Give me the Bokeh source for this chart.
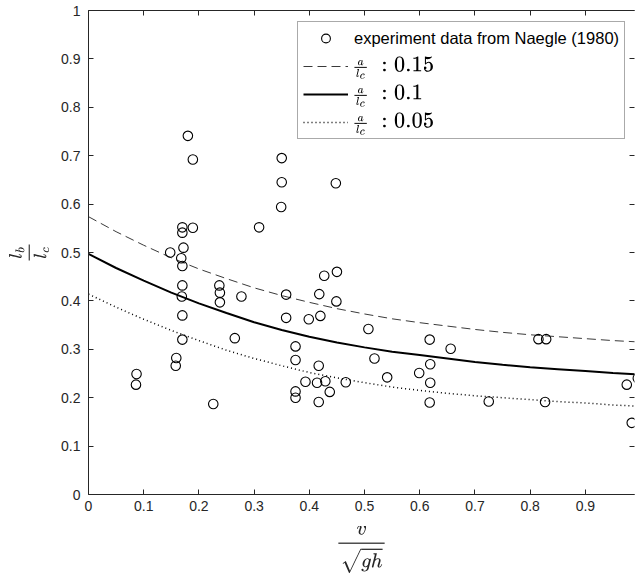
from bokeh.plotting import figure
from bokeh.models import (Range1d, LinearAxis, FixedTicker, Legend, LegendItem,
                          Label, TeX, CustomLabelingPolicy)
from bokeh.embed import file_html
from bokeh.resources import INLINE

# Measured Froude number v/sqrt(gh) and relative length l_b/l_c (Naegle, 1980)
froude = [0.087, 0.086, 0.148, 0.159, 0.158, 0.170, 0.170, 0.172, 0.168, 0.170,
          0.170, 0.169, 0.170, 0.170, 0.180, 0.189, 0.189, 0.226, 0.237, 0.238,
          0.238, 0.265, 0.277, 0.309, 0.350, 0.350, 0.349, 0.358, 0.358, 0.375,
          0.375, 0.375, 0.375, 0.393, 0.399, 0.414, 0.417, 0.417, 0.418, 0.420,
          0.427, 0.429, 0.437, 0.448, 0.449, 0.450, 0.466, 0.507, 0.518, 0.541,
          0.599, 0.618, 0.619, 0.619, 0.618, 0.656, 0.725, 0.815, 0.829, 0.827,
          0.975, 0.995, 0.984]
ratio = [0.249, 0.227, 0.500, 0.282, 0.266, 0.552, 0.541, 0.510, 0.488, 0.472,
         0.432, 0.409, 0.370, 0.320, 0.741, 0.692, 0.551, 0.187, 0.432, 0.417,
         0.397, 0.323, 0.409, 0.552, 0.695, 0.645, 0.594, 0.413, 0.365, 0.306,
         0.278, 0.213, 0.200, 0.233, 0.362, 0.231, 0.266, 0.191, 0.414, 0.369,
         0.452, 0.234, 0.212, 0.643, 0.399, 0.460, 0.232, 0.342, 0.281, 0.242,
         0.251, 0.320, 0.269, 0.231, 0.190, 0.301, 0.192, 0.321, 0.321, 0.191,
         0.227, 0.240, 0.148]

# Model curves for three values of a/l_c
curve_x = [0.00, 0.05, 0.10, 0.15, 0.20, 0.25, 0.30, 0.35, 0.40, 0.45, 0.50,
           0.55, 0.60, 0.65, 0.70, 0.75, 0.80, 0.85, 0.90, 0.95, 1.00]
curve_015 = [0.574, 0.543, 0.515, 0.489, 0.466, 0.446, 0.427, 0.411, 0.397, 0.384,
             0.373, 0.363, 0.355, 0.348, 0.341, 0.335, 0.330, 0.326, 0.322, 0.318,
             0.315]
curve_010 = [0.497, 0.468, 0.442, 0.417, 0.395, 0.375, 0.356, 0.340, 0.326, 0.314,
             0.304, 0.295, 0.288, 0.281, 0.274, 0.268, 0.263, 0.259, 0.255, 0.251,
             0.248]
curve_005 = [0.414, 0.387, 0.362, 0.339, 0.318, 0.298, 0.281, 0.266, 0.252, 0.241,
             0.231, 0.222, 0.215, 0.209, 0.204, 0.200, 0.196, 0.192, 0.189, 0.185,
             0.182]
curve_labels = [r"{\scriptstyle\frac{a}{l_c}}\; : 0.15",
                r"{\scriptstyle\frac{a}{l_c}}\; : 0.1",
                r"{\scriptstyle\frac{a}{l_c}}\; : 0.05"]

tick_values = [0.0, 0.1, 0.2, 0.3, 0.4, 0.5, 0.6, 0.7, 0.8, 0.9, 1.0]
tick_overrides = {0: "0", 1: "1"}

axis_color = "#262626"
tick_font = "Liberation Sans"

p = figure(width=638, height=579, output_backend="svg", toolbar_location=None,
           x_range=Range1d(0, 0.989), y_range=Range1d(0, 1),
           min_border_left=88, min_border_right=0, min_border_top=10,
           min_border_bottom=85, background_fill_color="white",
           border_fill_color="white", outline_line_color=None)
p.xgrid.visible = False
p.ygrid.visible = False


def style_axis(ax, show_labels=True):
    ax.ticker = FixedTicker(ticks=tick_values)
    ax.major_tick_in = 5
    ax.major_tick_out = 0
    ax.minor_tick_in = 0
    ax.minor_tick_out = 0
    ax.axis_line_color = axis_color
    ax.axis_line_width = 1
    ax.major_tick_line_color = axis_color
    ax.major_label_overrides = tick_overrides
    if show_labels:
        ax.major_label_text_font = tick_font
        ax.major_label_text_font_size = "14px"
        ax.major_label_text_color = axis_color
    else:
        # box edge: ticks only, no labels drawn
        ax.major_label_text_font_size = "1px"
        ax.major_label_standoff = 0
        ax.major_label_policy = CustomLabelingPolicy(code="return []")


style_axis(p.xaxis[0])
style_axis(p.yaxis[0])
p.xaxis.major_label_standoff = 6
p.yaxis.major_label_standoff = 8

p.xaxis.axis_label = r"$$\frac{v}{\sqrt{gh}}$$"
p.xaxis.axis_label_text_font_size = "17px"
p.xaxis.axis_label_text_color = axis_color
p.xaxis.axis_label_standoff = 12
p.yaxis.axis_label = r"$$\frac{l_b}{l_c}$$"
p.yaxis.axis_label_text_font_size = "15px"
p.yaxis.axis_label_text_color = axis_color
p.yaxis.axis_label_standoff = 9

top_axis = LinearAxis()
style_axis(top_axis, show_labels=False)
p.add_layout(top_axis, "above")

right_axis = LinearAxis()
style_axis(right_axis, show_labels=False)
right_axis.axis_line_color = None
p.add_layout(right_axis, "right")

r015 = p.line(curve_x, curve_015, line_color="#3a3a3a", line_width=1,
              line_dash="9 5")
r010 = p.line(curve_x, curve_010, line_color="black", line_width=2)
r005 = p.line(curve_x, curve_005, line_color="black", line_width=1.5,
              line_dash="1 3")
pts = p.scatter(froude, ratio, marker="circle", size=9.5, fill_color=None,
                line_color="black", line_width=1.1)

legend = Legend(items=[
    LegendItem(label="experiment data from Naegle (1980)", renderers=[pts]),
    LegendItem(label=" ", renderers=[r015]),
    LegendItem(label=" ", renderers=[r010]),
    LegendItem(label=" ", renderers=[r005]),
], location=(209, 355), orientation="vertical")
legend.label_text_font = tick_font
legend.label_text_font_size = "16.5px"
legend.label_text_color = "black"
legend.glyph_width = 45
legend.glyph_height = 22
legend.label_height = 22
legend.label_standoff = 6
legend.spacing = 6
legend.padding = 5
legend.margin = 0
legend.border_line_color = "#555555"
legend.border_line_width = 1
legend.background_fill_alpha = 0
p.add_layout(legend, "center")

# a/l_c labels of the three curve entries, drawn over the legend box
for y_pos, txt in zip([427, 399, 371], curve_labels):
    p.add_layout(Label(x=264, y=y_pos, x_units="screen", y_units="screen",
                       text=TeX(text=txt, inline=True), text_font_size="19px",
                       text_color="black", text_baseline="middle",
                       text_align="left", level="overlay"))

open("out.html", "w").write(file_html(p, INLINE))
